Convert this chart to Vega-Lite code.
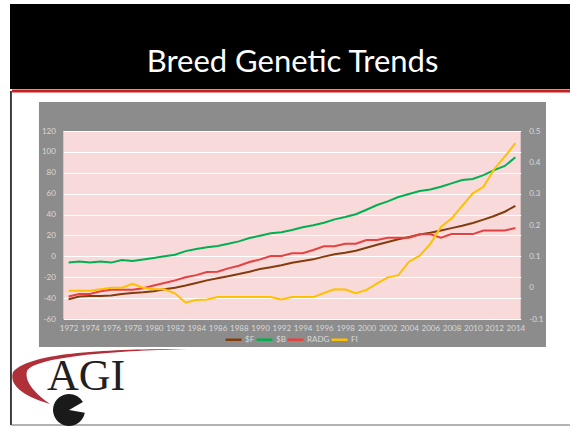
{
  "$schema": "https://vega.github.io/schema/vega-lite/v6.json",
  "width": 457.4,
  "height": 188,
  "autosize": "none",
  "padding": {"left": 63.3, "top": 131, "right": 49.3, "bottom": 107},
  "background": "#8C8C8C",
  "datasets": {
    "trend": [
      {"year": 1972, "F": -41, "B": -6, "RADG": -38.5, "FI": -0.01},
      {"year": 1973, "F": -38.5, "B": -5, "RADG": -36, "FI": -0.01},
      {"year": 1974, "F": -38, "B": -6, "RADG": -36, "FI": -0.01},
      {"year": 1975, "F": -38, "B": -5, "RADG": -33.5, "FI": -0.005},
      {"year": 1976, "F": -37.5, "B": -6, "RADG": -32, "FI": 0},
      {"year": 1977, "F": -36, "B": -3.5, "RADG": -32, "FI": 0},
      {"year": 1978, "F": -35, "B": -4.5, "RADG": -32, "FI": 0.012},
      {"year": 1979, "F": -34.5, "B": -3, "RADG": -30.5, "FI": 0},
      {"year": 1980, "F": -33.5, "B": -1.5, "RADG": -28, "FI": -0.005},
      {"year": 1981, "F": -31.5, "B": 0, "RADG": -25.5, "FI": -0.005},
      {"year": 1982, "F": -30, "B": 1.5, "RADG": -23, "FI": -0.018},
      {"year": 1983, "F": -28, "B": 5, "RADG": -20, "FI": -0.048},
      {"year": 1984, "F": -25.5, "B": 7, "RADG": -18, "FI": -0.039},
      {"year": 1985, "F": -23, "B": 8.6, "RADG": -15, "FI": -0.038},
      {"year": 1986, "F": -21, "B": 10, "RADG": -14.7, "FI": -0.03},
      {"year": 1987, "F": -19, "B": 12, "RADG": -11.5, "FI": -0.03},
      {"year": 1988, "F": -17, "B": 14.3, "RADG": -9, "FI": -0.03},
      {"year": 1989, "F": -14.7, "B": 17.5, "RADG": -5.5, "FI": -0.03},
      {"year": 1990, "F": -12.2, "B": 19.7, "RADG": -2.9, "FI": -0.03},
      {"year": 1991, "F": -10.5, "B": 22, "RADG": 0.3, "FI": -0.03},
      {"year": 1992, "F": -8.6, "B": 23, "RADG": 0.3, "FI": -0.038},
      {"year": 1993, "F": -6.1, "B": 25.2, "RADG": 2.9, "FI": -0.03},
      {"year": 1994, "F": -4.5, "B": 27.8, "RADG": 2.9, "FI": -0.03},
      {"year": 1995, "F": -2.9, "B": 29.7, "RADG": 6, "FI": -0.03},
      {"year": 1996, "F": -0.3, "B": 32.2, "RADG": 9.6, "FI": -0.017},
      {"year": 1997, "F": 1.9, "B": 35.4, "RADG": 9.6, "FI": -0.005},
      {"year": 1998, "F": 3.5, "B": 37.6, "RADG": 12.1, "FI": -0.006},
      {"year": 1999, "F": 5.4, "B": 40.3, "RADG": 12.1, "FI": -0.018},
      {"year": 2000, "F": 8.3, "B": 44.6, "RADG": 15.6, "FI": -0.007},
      {"year": 2001, "F": 11.1, "B": 49.1, "RADG": 15.6, "FI": 0.014},
      {"year": 2002, "F": 13.7, "B": 52.6, "RADG": 17.8, "FI": 0.033},
      {"year": 2003, "F": 16.3, "B": 56.8, "RADG": 17.8, "FI": 0.04},
      {"year": 2004, "F": 18.5, "B": 59.6, "RADG": 17.8, "FI": 0.083},
      {"year": 2005, "F": 20.9, "B": 62.6, "RADG": 21.2, "FI": 0.102},
      {"year": 2006, "F": 22.5, "B": 64, "RADG": 21.2, "FI": 0.14},
      {"year": 2007, "F": 24.7, "B": 66.6, "RADG": 17.8, "FI": 0.194},
      {"year": 2008, "F": 27, "B": 69.9, "RADG": 21.3, "FI": 0.221},
      {"year": 2009, "F": 29.3, "B": 73.1, "RADG": 21.3, "FI": 0.261},
      {"year": 2010, "F": 31.9, "B": 74, "RADG": 21.3, "FI": 0.301},
      {"year": 2011, "F": 35.1, "B": 77.8, "RADG": 24.7, "FI": 0.322},
      {"year": 2012, "F": 38.6, "B": 82.6, "RADG": 24.7, "FI": 0.378},
      {"year": 2013, "F": 42.7, "B": 86.5, "RADG": 24.7, "FI": 0.418},
      {"year": 2014, "F": 48.2, "B": 94.8, "RADG": 27.1, "FI": 0.461}
    ]
  },
  "layer": [
    {
      "data": {"name": "trend"},
      "transform": [{"fold": ["F", "B", "RADG"], "as": ["series", "value"]}],
      "mark": {"type": "line", "strokeWidth": 2},
      "encoding": {
        "x": {"field": "year", "type": "quantitative", "title": null,
              "scale": {"domain": [1971.5, 2014.5], "nice": false, "zero": false},
              "axis": {"orient": "bottom", "values": [1972, 1974, 1976, 1978, 1980, 1982, 1984, 1986, 1988, 1990, 1992, 1994, 1996, 1998, 2000, 2002, 2004, 2006, 2008, 2010, 2012, 2014], "format": "d", "labelPadding": 5, "labelOverlap": false, "labelFlush": false, "title": null}},
        "y": {"field": "value", "type": "quantitative", "title": null,
              "scale": {"domain": [-60, 120], "nice": false, "zero": false},
              "axis": {"orient": "left", "values": [-60, -40, -20, 0, 20, 40, 60, 80, 100, 120], "labelExpr": "toString(datum.value)", "grid": true, "gridColor": "white", "gridWidth": 1, "labelPadding": 8, "title": null}},
        "color": {"field": "series", "type": "nominal",
                  "scale": {"domain": ["F", "B", "RADG", "FI"], "range": ["#843C0C", "#00B050", "#E8403F", "#FFC000"]},
                  "legend": {"orient": "none", "legendX": 160.7, "legendY": 199, "direction": "horizontal", "title": null,
                             "labelExpr": "datum.label == 'F' ? '$F' : datum.label == 'B' ? '$B' : datum.label",
                             "symbolType": "stroke", "symbolStrokeWidth": 2.5, "symbolSize": 256, "labelOffset": 2, "columnPadding": -5,
                             "labelFont": "Lato", "labelFontSize": 8, "labelColor": "#D9D9D9", "padding": 0}}
      }
    },
    {
      "data": {"name": "trend"},
      "mark": {"type": "line", "strokeWidth": 2},
      "encoding": {
        "x": {"field": "year", "type": "quantitative", "title": null,
              "scale": {"domain": [1971.5, 2014.5], "nice": false, "zero": false}, "axis": null},
        "y": {"field": "FI", "type": "quantitative", "title": null,
              "scale": {"domain": [-0.1, 0.5], "nice": false, "zero": false},
              "axis": {"orient": "right", "values": [-0.1, 0, 0.1, 0.2, 0.3, 0.4, 0.5], "labelExpr": "toString(round(datum.value*10)/10)", "labelPadding": 8, "grid": false, "title": null}},
        "color": {"datum": "FI"}
      }
    },
    {
      "data": {"values": [{}]},
      "layer": [
        {
          "mark": {"type": "rect", "filled": false, "stroke": "white", "strokeWidth": 400, "strokeJoin": "miter"},
          "encoding": {
            "x": {"datum": 1950.41, "axis": null, "scale": {"domain": [1971.5, 2014.5], "nice": false, "zero": false}},
            "x2": {"datum": 2035.68},
            "y": {"datum": 339.26, "axis": null, "scale": {"domain": [-60, 120], "nice": false, "zero": false}},
            "y2": {"datum": -278.3}
          }
        },
        {
          "mark": {"type": "rect", "fill": "black"},
          "encoding": {
            "x": {"datum": 1966.49, "axis": null},
            "x2": {"datum": 2040},
            "y": {"datum": 241.6, "axis": null},
            "y2": {"datum": 160.2}
          }
        },
        {
          "mark": {"type": "rule", "stroke": "#C8201E", "strokeWidth": 3},
          "encoding": {
            "x": {"datum": 1966.68, "axis": null},
            "x2": {"datum": 2040},
            "y": {"datum": 158.3, "axis": null}
          }
        },
        {
          "mark": {"type": "rule", "stroke": "black", "strokeWidth": 1.5},
          "encoding": {
            "x": {"datum": 1966.58, "axis": null},
            "y": {"datum": 158.3, "axis": null},
            "y2": {"datum": -161.5}
          }
        },
        {
          "mark": {"type": "rule", "stroke": "#666666", "strokeWidth": 1},
          "encoding": {
            "x": {"datum": 1966.58, "axis": null},
            "x2": {"datum": 2040},
            "y": {"datum": -161.5, "axis": null}
          }
        },
        {
          "mark": {"type": "point", "filled": true, "fill": "#B0303A", "strokeWidth": 0, "opacity": 1, "size": 40000, "shape": "M0.87,-0.27 C0.1,-0.27 -0.7,-0.24 -0.87,-0.04 C-0.92,0.12 -0.7,0.22 -0.5,0.28 C-0.64,0.18 -0.76,0.06 -0.73,-0.05 C-0.65,-0.19 0.1,-0.25 0.87,-0.27 Z"},
          "encoding": {
            "x": {"datum": 1974.95, "axis": null},
            "y": {"datum": -114.6, "axis": null}
          }
        },
        {
          "mark": {"type": "point", "filled": true, "fill": "#1A1A1A", "strokeWidth": 0, "opacity": 1, "size": 1024, "shape": "M0,0 L0.985,0.174 A1,1 0 1,1 0.866,-0.5 Z"},
          "encoding": {
            "x": {"datum": 1972.04, "axis": null},
            "y": {"datum": -147.1, "axis": null}
          }
        },
        {
          "mark": {"type": "text", "text": "AGI", "font": "Liberation Serif", "fontSize": 44, "fill": "#231F20", "align": "left", "baseline": "alphabetic"},
          "encoding": {
            "x": {"datum": 1969.97, "axis": null},
            "y": {"datum": -128, "axis": null}
          }
        },
        {
          "mark": {"type": "text", "text": "Breed Genetic Trends", "font": "Lato", "fontSize": 31, "fill": "white", "align": "center", "baseline": "alphabetic"},
          "encoding": {
            "x": {"datum": 1993.05, "axis": null},
            "y": {"datum": 176.5, "axis": null}
          }
        }
      ]
    }
  ],
  "resolve": {"scale": {"x": "independent", "y": "independent"}},
  "config": {
    "view": {"fill": "#F9DADB", "stroke": null},
    "axis": {"labelFont": "Lato", "labelFontSize": 8, "labelColor": "#D9D9D9", "ticks": false, "tickSize": 0, "domain": false, "grid": false}
  }
}
